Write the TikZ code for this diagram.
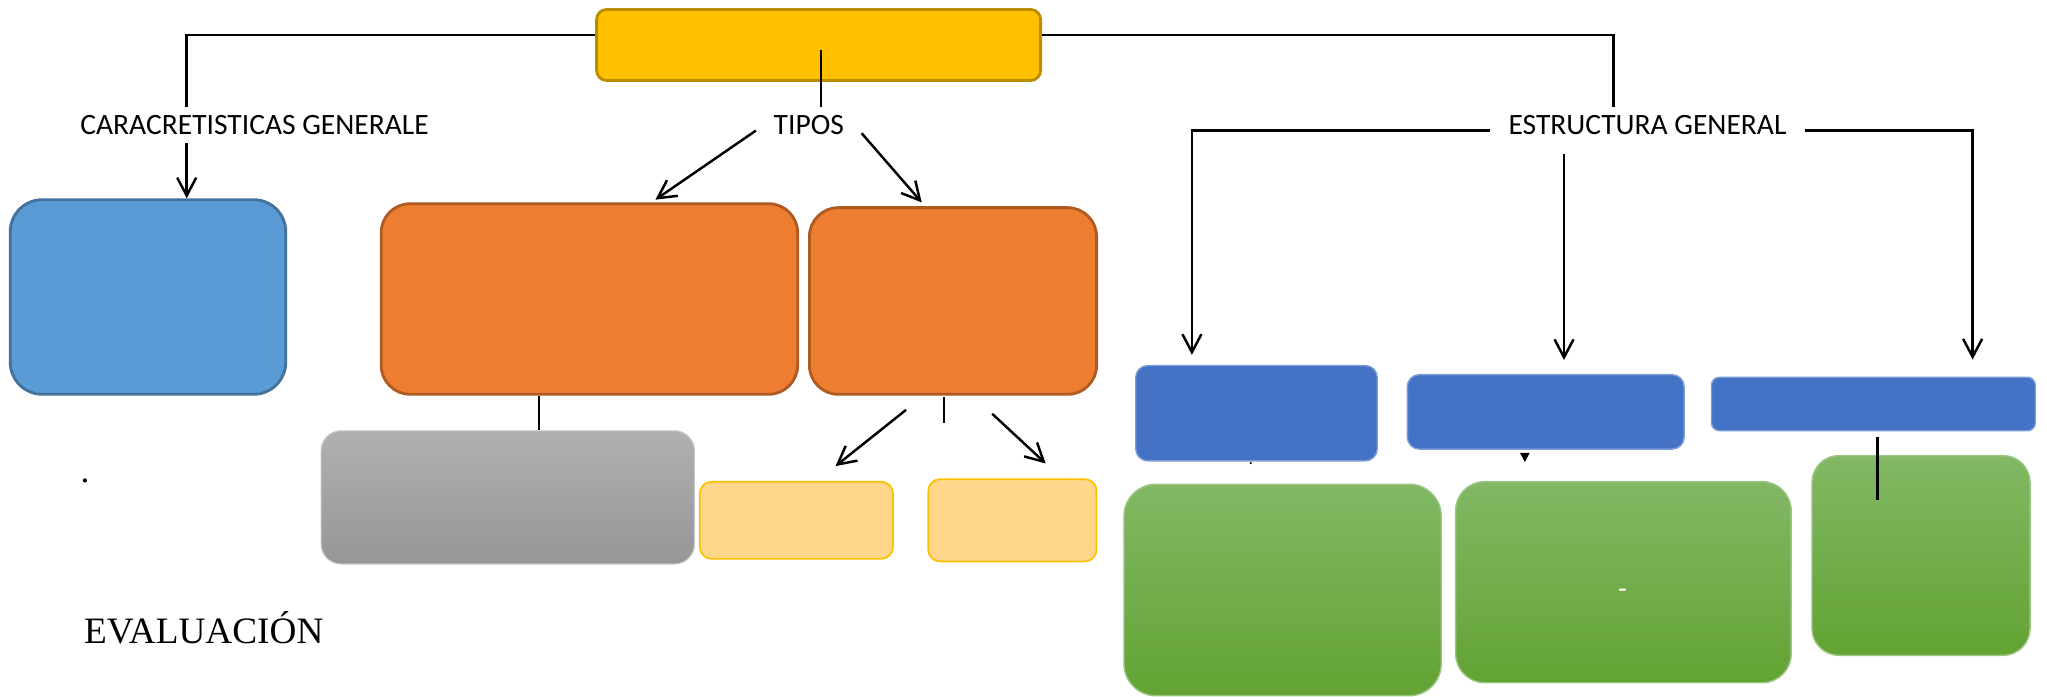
\documentclass[tikz,border=0pt]{standalone}
\usepackage{fontspec}
\setsansfont{Carlito}
\newfontfamily\serifeval{Liberation Serif}
\usetikzlibrary{arrows.meta}
\definecolor{amarillo}{HTML}{FFC000}
\definecolor{amarilloborde}{HTML}{BC8C00}
\definecolor{naranja}{HTML}{ED7D31}
\definecolor{naranjaborde}{HTML}{AE5A21}
\definecolor{celeste}{HTML}{5B9BD5}
\definecolor{celesteborde}{HTML}{41719C}
\definecolor{azul}{HTML}{4472C4}
\definecolor{crema}{HTML}{FED78C}
\definecolor{verdearriba}{HTML}{82B864}
\definecolor{verdeabajo}{HTML}{62A333}
\tikzset{
    every node/.style={font=\sffamily\fontsize{8.4}{10}\selectfont},
    text node/.style={inner sep=2pt},
    main box/.style={draw,rectangle,inner sep=0pt,line width=0.8pt},
    tema box/.style={main box,fill=amarillo,draw=amarilloborde,rounded corners=1mm},
    tipo box/.style={main box,fill=naranja,draw=naranjaborde,rounded corners=2.9mm},
    caract box/.style={main box,fill=celeste,draw=celesteborde,rounded corners=3.2mm},
    gris box/.style={main box,top color=gray!62,bottom color=gray!82,draw=gray!45,line width=0.3pt,rounded corners=2mm},
    crema box/.style={main box,fill=crema,draw=amarillo,line width=0.5pt,rounded corners=1.2mm},
    parte box/.style={main box,fill=azul,draw=azul!70!white,line width=0.4pt,rounded corners=1.2mm},
    verde box/.style={main box,top color=verdearriba,bottom color=verdeabajo,draw=verdearriba!80!white,line width=0.4pt,rounded corners=3.2mm}
}

\begin{document}
\begin{tikzpicture}[>={Straight Barb[length=1.8mm,width=1.9mm]},line width=0.7pt]
    \useasboundingbox (0,0) rectangle (20.47,-6.97);

    \node[tema box,minimum width=4.44cm,minimum height=0.71cm] (tema) at (8.186,-0.45) {};

    \node[text node] (carac) at (2.546,-1.253) {CARACRETISTICAS GENERALE};
    \node[text node] (tipos) at (8.088,-1.253) {TIPOS};
    \node[text node,inner xsep=5pt] (estr) at (16.475,-1.253) {ESTRUCTURA GENERAL};
    \node[font=\serifeval\fontsize{10.6}{12}\selectfont] (eval) at (2.037,-6.28) {EVALUACIÓN};
    \node[font=\serifeval\fontsize{10}{12}\selectfont] (punto) at (0.849,-4.81) {.};

    \node[caract box,minimum width=2.755cm,minimum height=1.946cm] (caract) at (1.48,-2.97) {};
    \node[tipo box,minimum width=4.165cm,minimum height=1.906cm] (tipoA) at (5.894,-2.99) {};
    \node[tipo box,minimum width=2.872cm,minimum height=1.867cm] (tipoB) at (9.53,-3.01) {};
    \node[gris box,minimum width=3.733cm,minimum height=1.332cm] (gris) at (5.078,-4.974) {};
    \node[crema box,minimum width=1.933cm,minimum height=0.771cm] (cremaA) at (7.964,-5.203) {};
    \node[crema box,minimum width=1.684cm,minimum height=0.823cm] (cremaB) at (10.124,-5.203) {};

    \node[parte box,minimum width=2.415cm,minimum height=0.953cm] (parteA) at (12.565,-4.132) {};
    \node[parte box,minimum width=2.768cm,minimum height=0.744cm] (parteB) at (15.457,-4.119) {};
    \node[parte box,minimum width=3.238cm,minimum height=0.535cm,rounded corners=0.8mm] (parteC) at (18.734,-4.04) {};
    \node[verde box,minimum width=3.173cm,minimum height=2.115cm] (verdeA) at (12.826,-5.9) {};
    \node[verde box,minimum width=3.355cm,minimum height=2.011cm,rounded corners=2.9mm] (verdeB) at (16.234,-5.822) {};
    \node[verde box,minimum width=2.181cm,minimum height=1.998cm,rounded corners=2.7mm] (verdeC) at (19.21,-5.555) {};
    \node[inner sep=0pt,text=white] (guion) at (16.227,-5.94) {-};
    \node[inner sep=0pt,font=\sffamily\fontsize{5}{6}\selectfont] (marca) at (12.507,-4.64) {.};

    \coordinate (c1) at (1.867,-0.352);
    \coordinate (c2) at (16.136,-0.352);
    \coordinate (c3) at (8.212,-0.496);
    \coordinate (c4) at (11.919,-1.307);
    \coordinate (c5) at (15.64,0);
    \coordinate (c6) at (19.726,-1.307);

    \draw (tema.west |- c1) -| (carac.north -| c1);
    \draw (tema.east |- c2) -| (estr.north -| c2);
    \draw (c3) -- (tipos.north -| c3);
    \draw[->] (carac.south -| c1) -- (caract.north -| c1);

    \draw[->] (7.559,-1.306) -- (6.554,-1.997);
    \draw[->] (8.616,-1.332) -- (9.217,-2.024);

    \draw[->,shorten >=1mm] (estr.west |- c4) -- (c4) -- (c4 |- parteA.north);
    \draw[->,shorten >=1.4mm] ([yshift=-3pt]estr.south -| c5) -- (c5 |- parteB.north);
    \draw[->,shorten >=1.7mm] (estr.east |- c6) -- (c6) -- (c6 |- parteC.north);

    \draw (tipoA.south -| 5.392,0) -- (gris.north -| 5.392,0);
    \draw (9.439,-3.969) -- (9.439,-4.23);
    \draw[->] (9.06,-4.099) -- (8.355,-4.661);
    \draw[->] (9.922,-4.138) -- (10.457,-4.635);

    \draw (18.773,-4.373) -- (18.773,-5.0);
    \fill (15.2,-4.53) -- (15.296,-4.53) -- (15.248,-4.62) -- cycle;
\end{tikzpicture}
\end{document}
